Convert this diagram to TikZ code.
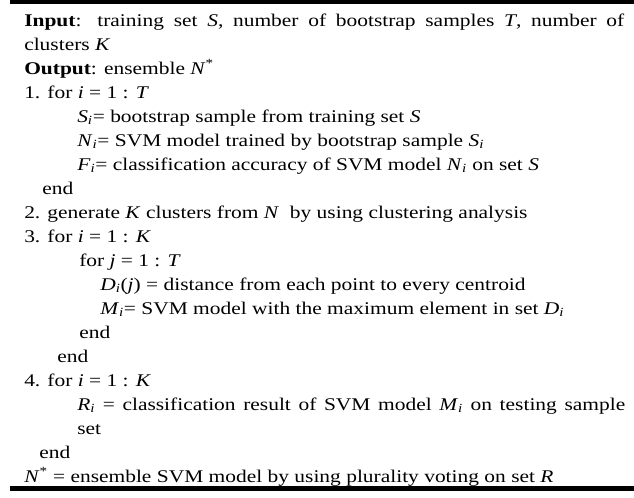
\documentclass[tikz,border=0pt]{standalone}
\usepackage{fontspec}
\setmainfont{Liberation Serif}[FakeStretch=1.2]
% italic symbol and italic symbol with subscript i
\newcommand\vv[1]{\textit{#1}}
\newcommand\vi[1]{\textit{#1}\textsubscript{\textit{i}}}
\begin{document}
\begin{tikzpicture}[x=0.75pt,y=-0.75pt,
  ln/.style={anchor=base west,inner sep=0pt,font=\fontsize{13.4}{15}\selectfont},
  rulebar/.style={fill=black,draw=none}]
\useasboundingbox (0,0) rectangle (634,497);
\fill[rulebar] (10,0) rectangle (634,4);
\fill[rulebar] (10,486) rectangle (634,491);
\def\dy{24.0}
\def\yo{26}
\node[ln] (l1)  at (24, \yo+0*\dy) {\makebox[450pt][s]{\textbf{Input}: training set \vv{S}, number of bootstrap samples \vv{T}, number of}};
\node[ln] (l2)  at (24, \yo+1*\dy) {clusters \vv{K}};
\node[ln] (l3)  at (24, \yo+2*\dy) {\textbf{Output}: ensemble \vv{N}\textsuperscript{*}};
\node[ln] (l4)  at (24, \yo+3*\dy) {1. for \vv{i} = 1 : \vv{T}};
\node[ln] (l5)  at (77, \yo+4*\dy) {\vi{S}= bootstrap sample from training set \vv{S}};
\node[ln] (l6)  at (77, \yo+5*\dy) {\vi{N}= SVM model trained by bootstrap sample \vi{S}};
\node[ln] (l7)  at (77, \yo+6*\dy) {\vi{F}= classification accuracy of SVM model \vi{N} on set \vv{S}};
\node[ln] (l8)  at (42, \yo+7*\dy) {end};
\node[ln] (l9)  at (24, \yo+8*\dy) {2. generate \vv{K} clusters from \vv{N}\ \ by using clustering analysis};
\node[ln] (l10) at (24, \yo+9*\dy) {3. for \vv{i} = 1 : \vv{K}};
\node[ln] (l11) at (79, \yo+10*\dy) {for \vv{j} = 1 : \vv{T}};
\node[ln] (l12) at (100, \yo+11*\dy) {\vi{D}(\vv{j}) = distance from each point to every centroid};
\node[ln] (l13) at (100, \yo+12*\dy) {\vi{M}= SVM model with the maximum element in set \vi{D}};
\node[ln] (l14) at (79, \yo+13*\dy) {end};
\node[ln] (l15) at (57, \yo+14*\dy) {end};
\node[ln] (l16) at (24, \yo+15*\dy) {4. for \vv{i} = 1 : \vv{K}};
\node[ln] (l17) at (77, \yo+16*\dy) {\makebox[411pt][s]{\vi{R} = classification result of SVM model \vi{M} on testing sample}};
\node[ln] (l18) at (77, \yo+17*\dy) {set};
\node[ln] (l19) at (39, \yo+18*\dy) {end};
\node[ln] (l20) at (24, \yo+19*\dy) {\vv{N}\textsuperscript{*} = ensemble SVM model by using plurality voting on set \vv{R}};
\end{tikzpicture}
\end{document}
